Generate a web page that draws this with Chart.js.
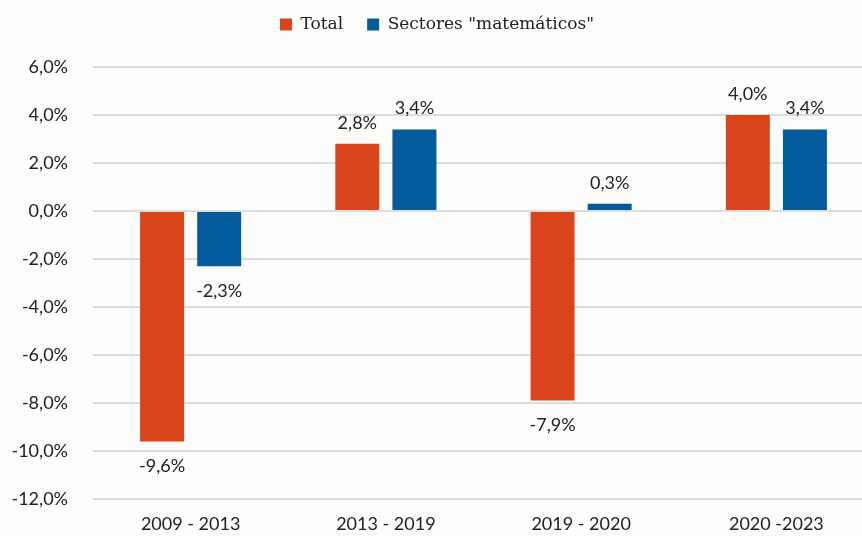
<!DOCTYPE html>
<html>
<head>
	<meta charset="utf-8">
	<title>Total vs sectores matemáticos</title>
	<style>
		html, body
		{
			margin: 0;
			padding: 0;
			background: #fcfcfa;
			overflow: hidden;
		}

		.chart
		{
			width: 880px;
			height: 536px;
		}
	</style>
</head>
<body>
	<div class="chart">
	<canvas id="chart1" width="880" height="536"></canvas>
	</div>

	<script src="https://cdn.jsdelivr.net/npm/chart.js@4.4.1/dist/chart.umd.min.js"></script>
	<script>
		// periods on the x axis
		var periods = ["2009 - 2013", "2013 - 2019", "2019 - 2020", "2020 -2023"];
		// yearly change, %
		var total = [-9.6, 2.8, -7.9, 4.0];
		var sectores = [-2.3, 3.4, 0.3, 3.4];
		var yTicks = [6, 4, 2, 0, -2, -4, -6, -8, -10, -12];

		function fmt(v) {
			return v.toFixed(1).replace(".", ",") + "%";
		}

		// writes the value above (or below) every bar
		var valueLabels = {
			id: "valueLabels",
			afterDatasetsDraw: function (chart) {
				var ctx = chart.ctx;
				ctx.save();
				ctx.font = "18px Lato";
				ctx.fillStyle = "#222";
				ctx.textAlign = "center";
				ctx.textBaseline = "middle";
				chart.data.datasets.forEach(function (ds, i) {
					chart.getDatasetMeta(i).data.forEach(function (bar, j) {
						var v = ds.data[j];
						var y = v >= 0 ? bar.y - 21 : bar.y + 25;
						ctx.fillText(fmt(v), bar.x, y);
					});
				});
				ctx.restore();
			}
		};

		// extra room under the legend
		var legendSpace = {
			id: "legendSpace",
			beforeInit: function (chart) {
				var fit = chart.legend.fit;
				chart.legend.fit = function () {
					fit.bind(chart.legend)();
					this.height += 24;
				};
			}
		};

		function draw() {
			var ctx = document.getElementById("chart1").getContext("2d");
			var chart = new Chart(ctx, {
				type: "bar",
				data: {
					labels: periods,
					datasets: [{
						label: "Total",
						backgroundColor: "#d9441a",
						data: total
					}, {
						label: "Sectores \"matemáticos\"",
						backgroundColor: "#035a9c",
						data: sectores
					}]
				},
				plugins: [valueLabels, legendSpace],
				options: {
					responsive: false,
					animation: false,
					categoryPercentage: 0.585,
					barPercentage: 0.77,
					layout: { padding: { left: 0, right: 6, top: -8, bottom: 0 } },
					plugins: {
						legend: {
							labels: {
								boxWidth: 12,
								boxHeight: 12,
								color: "#222",
								font: { family: "DejaVu Serif", size: 17 },
								padding: 24
							}
						},
						tooltip: { enabled: false }
					},
					scales: {
						x: {
							grid: { display: false, drawTicks: false },
							border: { display: false },
							ticks: { color: "#222", font: { family: "Lato", size: 18 }, padding: 14 },
							afterFit: function (axis) { axis.height = 37; }
						},
						y: {
							min: -12,
							max: 6,
							afterBuildTicks: function (axis) {
								axis.ticks = yTicks.map(function (v) { return { value: v }; });
							},
							grid: { color: "#dcdcdc", lineWidth: 2, drawTicks: false },
							border: { display: false },
							ticks: {
								color: "#222",
								font: { family: "Lato", size: 18 },
								padding: 25,
								callback: function (v) { return fmt(v); }
							},
							afterFit: function (axis) { axis.width = 93; }
						}
					}
				}
			});
		}

		Promise.all([
			document.fonts.load("18px Lato"),
			document.fonts.load("17px 'DejaVu Serif'")
		]).then(draw, draw);
	</script>
</body>
</html>
